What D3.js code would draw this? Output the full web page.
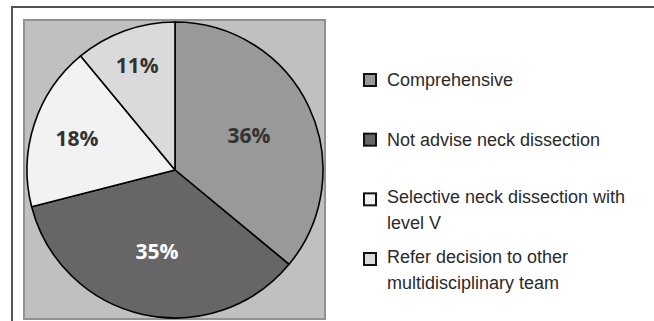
<!DOCTYPE html>
<html>
<head>
<meta charset="utf-8">
<script src="https://cdn.jsdelivr.net/npm/d3@7"></script>
<style>
  html, body { margin: 0; padding: 0; background: #fff; }
  svg { display: block; }
  .pct { font-family: "Open Sans", "DejaVu Sans", sans-serif; font-weight: bold; font-size: 21px; }
  .legend text { font-family: "Liberation Sans", Arial, sans-serif; font-size: 18px; fill: #2a2a2a; }
</style>
</head>
<body>
<svg id="chart"></svg>
<script>
// chart data
const categories = [
  "Comprehensive",
  "Not advise neck dissection",
  "Selective neck dissection with level V",
  "Refer decision to other multidisciplinary team",
];
const shares = [36, 35, 18, 11];
const sliceColors = ["#999999", "#666666", "#f2f2f2", "#dadada"];
const labelColors = ["#333333", "#ffffff", "#333333", "#333333"];
// legend lines (wrapped like the original)
const legendLines = [
  ["Comprehensive"],
  ["Not advise neck dissection"],
  ["Selective neck dissection with", "level V"],
  ["Refer decision to other", "multidisciplinary team"],
];

const width = 654;
const height = 321;

const svg = d3.select("#chart").attr("width", width).attr("height", height);

// outer frame (top + left only)
svg.append("path")
  .attr("d", `M12,${height} L12,7 L${width},7`)
  .attr("fill", "none")
  .attr("stroke", "#555")
  .attr("stroke-width", 2);

// plot area
svg.append("rect")
  .attr("x", 24).attr("y", 20)
  .attr("width", 301).attr("height", 299)
  .attr("fill", "#c0c0c0")
  .attr("stroke", "#929292")
  .attr("stroke-width", 2);

const cx = 175, cy = 170, radius = 148;

const data = categories.map((c, i) => ({ name: c, value: shares[i], i }));

const pie = d3.pie().sort(null).value((d) => d.value);
const arcs = pie(data);
const arc = d3.arc().innerRadius(0).outerRadius(radius);

const g = svg.append("g").attr("transform", `translate(${cx},${cy})`);

g.selectAll("path.slice")
  .data(arcs)
  .enter()
  .append("path")
  .attr("class", "slice")
  .attr("d", arc)
  .attr("fill", (d) => sliceColors[d.data.i])
  .attr("stroke", "#000")
  .attr("stroke-width", 1.6)
  .attr("stroke-linejoin", "round");

// smaller slices push their labels further out ("best fit")
const total = d3.sum(shares);
const labelPos = (d) => {
  const share = d.data.value / total;
  const r = radius * (0.84 - 0.8 * share);
  return d3.arc().innerRadius(r).outerRadius(r).centroid(d);
};

g.selectAll("text.pct")
  .data(arcs)
  .enter()
  .append("text")
  .attr("class", "pct")
  .attr("x", (d) => labelPos(d)[0])
  .attr("y", (d) => labelPos(d)[1])
  .attr("text-anchor", "middle")
  .attr("dominant-baseline", "central")
  .attr("fill", (d) => labelColors[d.data.i])
  .text((d) => d.data.value + "%");

// legend
const legendY = d3.scalePoint().domain(categories).range([80, 259]);

const legend = svg.append("g").attr("class", "legend");

const items = legend.selectAll("g")
  .data(data)
  .enter()
  .append("g")
  .attr("transform", (d) => `translate(364, ${legendY(d.name)})`);

items.append("rect")
  .attr("x", 0).attr("y", -6)
  .attr("width", 12).attr("height", 12)
  .attr("fill", (d) => sliceColors[d.i])
  .attr("stroke", "#111")
  .attr("stroke-width", 2);

items.each(function (d) {
  const lines = legendLines[d.i];
  const t = d3.select(this).append("text").attr("x", 23).attr("y", lines.length > 1 ? 4 : 6);
  lines.forEach((line, k) => {
    t.append("tspan").attr("x", 23).attr("dy", k === 0 ? 0 : 26).text(line);
  });
});
</script>
</body>
</html>
